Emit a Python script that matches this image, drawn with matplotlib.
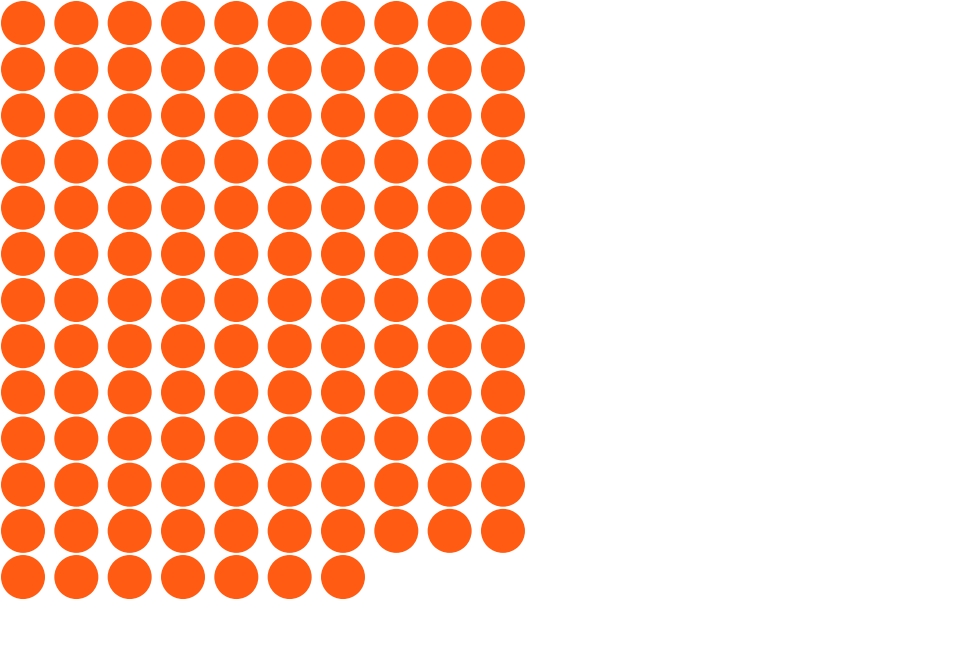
import matplotlib.pyplot as plt
from matplotlib.patches import Circle

# waffle grid: filled count out of a fixed grid
filled = 127
total = 140
n_cols = 10

dot_color = '#FF5B12'
empty_color = '#FFFFFF'

fig = plt.figure(figsize=(9.70, 6.49), dpi=100)
ax = fig.add_axes([0, 0, 1, 1])
ax.set_xlim(0, 970)
ax.set_ylim(649, 0)
ax.axis('off')

x0, y0 = 23, 23
dx, dy = 53.33, 46.17
r = 22

for i in range(total):
	row, col = divmod(i, n_cols)
	c = dot_color if i < filled else empty_color
	ax.add_patch(Circle((x0 + col*dx, y0 + row*dy), r, color=c, lw=0))

fig.savefig('out.png', dpi=100, facecolor='white')
